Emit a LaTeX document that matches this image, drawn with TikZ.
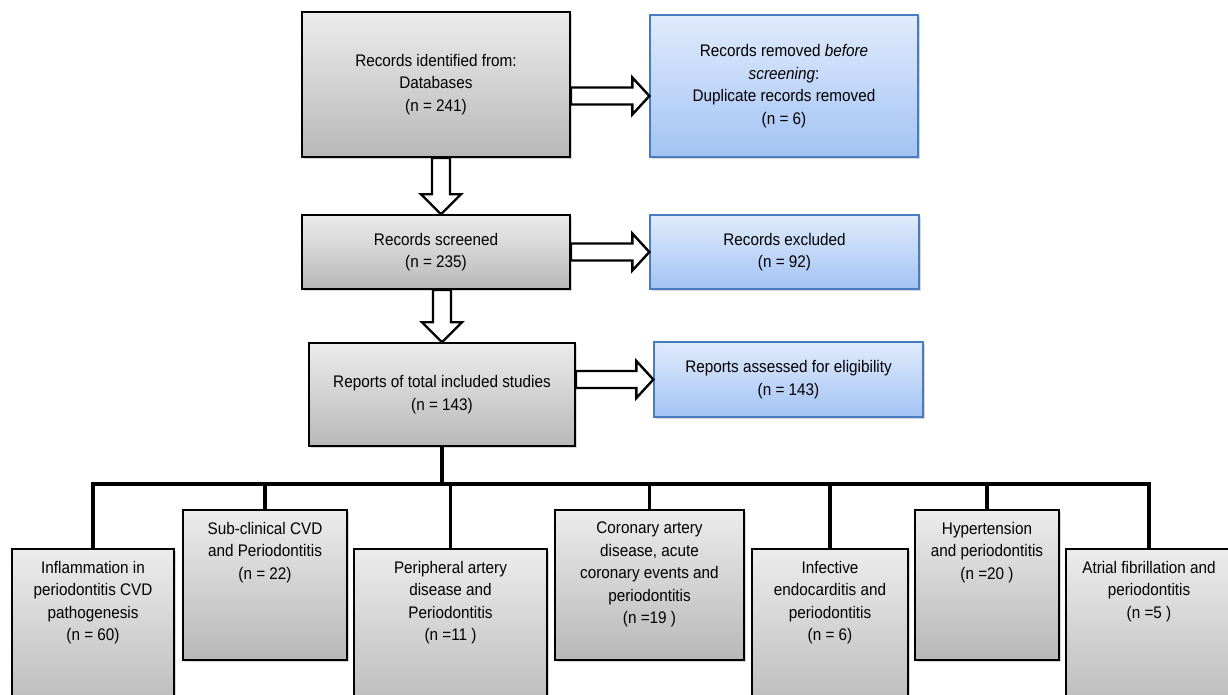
\documentclass[tikz,border=0pt]{standalone}
\usepackage{fontspec}
\setmainfont{Liberation Sans}[FakeStretch=0.91]
\usetikzlibrary{shadows,calc,positioning}

\definecolor{greytop}{RGB}{236,236,236}
\definecolor{greybot}{RGB}{184,184,184}
\definecolor{bluetop}{RGB}{224,235,252}
\definecolor{bluebot}{RGB}{163,195,244}
\definecolor{blueline}{RGB}{72,124,188}

\newcommand\hollowright[2]{%
  \draw[hollow] let \p1=(#1), \p2=(#2) in
    (\x1,\y2+8.5pt) -- (\x2-17pt,\y2+8.5pt) -- (\x2-17pt,\y2+18.5pt) -- (\x2,\y2)
    -- (\x2-17pt,\y2-18.5pt) -- (\x2-17pt,\y2-8.5pt) -- (\x1,\y2-8.5pt) -- cycle;}
\newcommand\hollowdown[2]{%
  \draw[hollow] let \p1=(#1), \p2=(#2) in
    (\x2-9pt,\y1) -- (\x2-9pt,\y2+20pt) -- (\x2-20pt,\y2+20pt) -- (\x2,\y2)
    -- (\x2+20pt,\y2+20pt) -- (\x2+9pt,\y2+20pt) -- (\x2+9pt,\y1) -- cycle;}

\begin{document}
\begin{tikzpicture}[x=1pt,y=-1pt]
\tikzstyle{every node}=[font=\fontsize{16.8pt}{22.5pt}\selectfont, align=center, inner sep=0pt]
\tikzstyle{greybox}=[draw, line width=1.6pt, top color=greytop, bottom color=greybot,
  drop shadow={shadow xshift=2pt, shadow yshift=-2pt, opacity=.3}]
\tikzstyle{bluebox}=[draw=blueline, line width=1.3pt, top color=bluetop, bottom color=bluebot,
  drop shadow={shadow xshift=2pt, shadow yshift=-2pt, opacity=.3}]
\tikzstyle{catbox}=[greybox, anchor=north]
\tikzstyle{hollow}=[draw, line width=2.4pt, fill=white]
\tikzstyle{trunk}=[line width=3.6pt]
\fill[white] (0,0) rectangle (1228,694);
\useasboundingbox (0,0) rectangle (1228,694);
\clip (0,0) rectangle (1228,694);

% flow
\node[greybox, minimum width=268pt, minimum height=145pt] (rec) at (436,84.5)
  {Records identified from:\\Databases\\(n = 241)};
\node[bluebox, minimum width=268pt, minimum height=142pt] (rem) at (784,86)
  {Records removed \textit{before}\\\textit{screening}:\\Duplicate records removed\\(n = 6)};
\node[greybox, minimum width=268pt, minimum height=74pt] (scr) at (436,252)
  {Records screened\\(n = 235)};
\node[bluebox, minimum width=269pt, minimum height=74pt] (exc) at (784.5,252)
  {Records excluded\\(n = 92)};
\node[greybox, minimum width=266pt, minimum height=103pt] (rep) at (442,394.5)
  {Reports of total included studies\\(n = 143)};
\node[bluebox, minimum width=269pt, minimum height=75pt] (ass) at (788.5,379.5)
  {Reports assessed for eligibility\\(n = 143)};

\hollowdown{rec.south}{$(scr.north)+(5,0)$}
\hollowdown{scr.south}{rep.north}
\hollowright{rec.east}{$(rem.west)+(0,10)$}
\hollowright{scr.east}{exc.west}
\hollowright{rep.east}{ass.west}

% categories
\node[catbox, minimum width=162pt, minimum height=170pt] (inf) at (93,548) {};
\node[catbox, minimum width=164pt, minimum height=150pt] (sub) at (265,509) {};
\node[catbox, minimum width=193pt, minimum height=170pt] (per) at (450.5,548) {};
\node[catbox, minimum width=189pt, minimum height=150pt] (cor) at (649.5,509) {};
\node[catbox, minimum width=156pt, minimum height=170pt] (ine) at (830,548) {};
\node[catbox, minimum width=144pt, minimum height=150pt] (hyp) at (987,509) {};
\node[catbox, minimum width=166pt, minimum height=170pt] (atr) at (1149,548) {};

\node[below=13pt of inf.north] {Inflammation in\\periodontitis CVD\\pathogenesis\\(n = 60)};
\node[below=13pt of sub.north] {Sub-clinical CVD\\and Periodontitis\\(n = 22)};
\node[below=13pt of per.north] {Peripheral artery\\disease and\\Periodontitis\\(n =11 )};
\node[below=13pt of cor.north] {Coronary artery\\disease, acute\\coronary events and\\periodontitis\\(n =19 )};
\node[below=13pt of ine.north] {Infective\\endocarditis and\\periodontitis\\(n = 6)};
\node[below=13pt of hyp.north] {Hypertension\\and periodontitis\\(n =20 )};
\node[below=13pt of atr.north] {Atrial fibrillation and\\periodontitis\\(n =5 )};

\draw[trunk] (rep.south) -- ++(0,37) coordinate (fork);
\draw[trunk] (inf.north) |- (fork) -| (atr.north);
\foreach \c in {sub,per,cor,ine,hyp}
  \draw[trunk] (\c.north) -- (\c.north |- fork);
\end{tikzpicture}
\end{document}
